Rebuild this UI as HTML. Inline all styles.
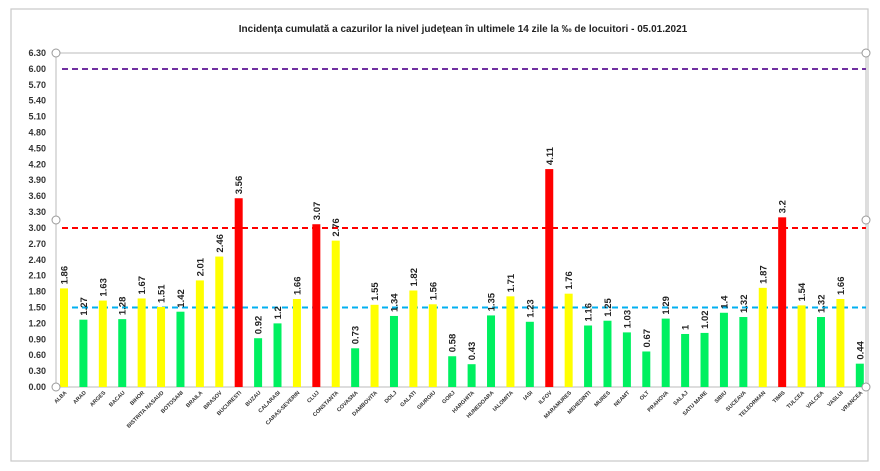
<!DOCTYPE html>
<html><head><meta charset="utf-8"><style>
body{margin:0;background:#fff;}
svg{display:block;font-family:"Liberation Sans",sans-serif;}
</style></head><body>
<svg width="880" height="471" viewBox="0 0 880 471" xmlns="http://www.w3.org/2000/svg">
<rect x="11" y="9" width="857" height="452" fill="#fff" stroke="#c8c8c8" stroke-width="1.2"/>
<text x="463" y="32" text-anchor="middle" font-size="10" font-weight="bold" fill="#222">Incidența cumulată a cazurilor la nivel județean în ultimele 14 zile la ‰ de locuitori - 05.01.2021</text>
<line x1="56" y1="53" x2="866" y2="53" stroke="#bbb"/>
<line x1="56" y1="53" x2="56" y2="387" stroke="#bbb"/>
<line x1="56" y1="387" x2="866" y2="387" stroke="#bbb"/>
<line x1="866" y1="53" x2="866" y2="387" stroke="#bbb"/>
<g id="yl" font-size="9" font-weight="bold" fill="#333" text-anchor="end"></g>
<line x1="62" y1="69" x2="866" y2="69" stroke="#7030a0" stroke-width="2" stroke-dasharray="6,4"/>
<line x1="62" y1="228" x2="866" y2="228" stroke="#ff0000" stroke-width="2" stroke-dasharray="6,4"/>
<line x1="62" y1="307.5" x2="866" y2="307.5" stroke="#00b0f0" stroke-width="2" stroke-dasharray="6,4"/>
<g id="bars"></g>
<g fill="#fff" stroke="#999" stroke-width="1">
<circle cx="56" cy="53" r="4"/><circle cx="56" cy="387" r="4"/><circle cx="866" cy="53" r="4"/><circle cx="866" cy="387" r="4"/><circle cx="866" cy="220" r="4"/><circle cx="56" cy="220" r="4"/>
</g>
</svg>
<script>
var ns="http://www.w3.org/2000/svg";
var yl=document.getElementById("yl");
for(var i=0;i<=21;i++){var v=i*0.3;var y=387-v*53.02;var t=document.createElementNS(ns,"text");t.setAttribute("x",46);t.setAttribute("y",y+3);t.textContent=v.toFixed(2);yl.appendChild(t);}
var d=[["ALBA",1.86,"Y"],["ARAD",1.27,"G"],["ARGES",1.63,"Y"],["BACAU",1.28,"G"],["BIHOR",1.67,"Y"],["BISTRITA NASAUD",1.51,"Y"],["BOTOSANI",1.42,"G"],["BRAILA",2.01,"Y"],["BRASOV",2.46,"Y"],["BUCURESTI",3.56,"R"],["BUZAU",0.92,"G"],["CALARASI",1.2,"G"],["CARAS-SEVERIN",1.66,"Y"],["CLUJ",3.07,"R"],["CONSTANTA",2.76,"Y"],["COVASNA",0.73,"G"],["DAMBOVITA",1.55,"Y"],["DOLJ",1.34,"G"],["GALATI",1.82,"Y"],["GIURGIU",1.56,"Y"],["GORJ",0.58,"G"],["HARGHITA",0.43,"G"],["HUNEDOARA",1.35,"G"],["IALOMITA",1.71,"Y"],["IASI",1.23,"G"],["ILFOV",4.11,"R"],["MARAMURES",1.76,"Y"],["MEHEDINTI",1.16,"G"],["MURES",1.25,"G"],["NEAMT",1.03,"G"],["OLT",0.67,"G"],["PRAHOVA",1.29,"G"],["SALAJ",1,"G"],["SATU MARE",1.02,"G"],["SIBIU",1.4,"G"],["SUCEAVA",1.32,"G"],["TELEORMAN",1.87,"Y"],["TIMIS",3.2,"R"],["TULCEA",1.54,"Y"],["VALCEA",1.32,"G"],["VASLUI",1.66,"Y"],["VRANCEA",0.44,"G"]];
var col={Y:"#ffff00",G:"#00f060",R:"#ff0000"};
var g=document.getElementById("bars");
d.forEach(function(e,i){
 var cx=64+i*19.41;var h=e[1]*53.02;var y=387-h;
 var r=document.createElementNS(ns,"rect");r.setAttribute("x",cx-4);r.setAttribute("y",y);r.setAttribute("width",8);r.setAttribute("height",h);r.setAttribute("fill",col[e[2]]);g.appendChild(r);
 var t=document.createElementNS(ns,"text");t.setAttribute("transform","translate("+(cx+3.5)+","+(y-4)+") rotate(-90)");t.setAttribute("font-size","9.5");t.setAttribute("font-weight","bold");t.setAttribute("fill","#222");t.textContent=String(e[1]);g.appendChild(t);
 var l=document.createElementNS(ns,"text");l.setAttribute("transform","translate("+(cx+3)+",393) rotate(-45)");l.setAttribute("text-anchor","end");l.setAttribute("font-size","5.5");l.setAttribute("font-weight","bold");l.setAttribute("fill","#333");l.textContent=e[0];g.appendChild(l);
});
</script>
</body></html>
